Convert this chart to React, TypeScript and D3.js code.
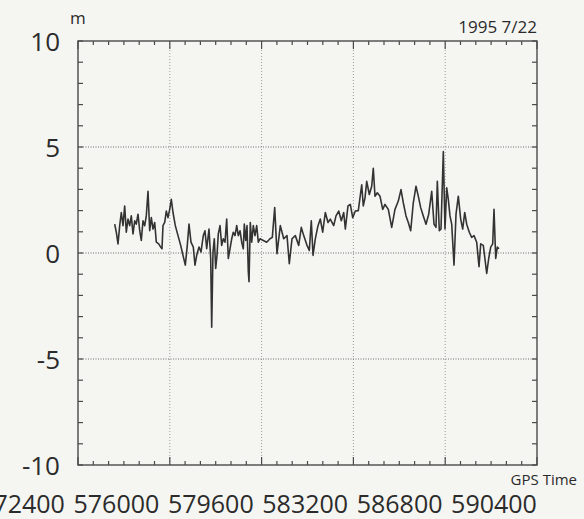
import React, { useEffect, useRef } from 'react';
import * as d3 from 'd3';

// GPS time (s) of each sample
const gpsTime = [
  573839, 573902, 573969, 574035, 574098, 574165, 574231, 574294, 574361, 574427,
  574490, 574557, 574624, 574686, 574753, 574820, 574882, 574949, 575016, 575078,
  575145, 575212, 575275, 575341, 575408, 575471, 575565, 575643, 575694, 575733,
  575800, 575863, 575929, 575996, 576059, 576126, 576216, 576322, 576427, 576518,
  576608, 576686, 576753, 576831, 576922, 576988, 577055, 577145, 577224, 577314,
  577380, 577447, 577537, 577604, 577643, 577694, 577745, 577800, 577851, 577902,
  577969, 578035, 578098, 578165, 578231, 578294, 578361, 578428, 578490, 578557,
  578624, 578686, 578753, 578820, 578882, 578922, 578977, 579028, 579079, 579106,
  579157, 579212, 579275, 579341, 579408, 579471, 579537, 579667, 579800, 579929,
  580020, 580114, 580204, 580334, 580467, 580596, 580686, 580792, 580922, 581055,
  581157, 581251, 581380, 581471, 581549, 581616, 581706, 581812, 581902, 581996,
  582098, 582204, 582294, 582428, 582518, 582624, 582726, 582820, 582883, 582988,
  583079, 583173, 583275, 583392, 583526, 583588, 583655, 583722, 583824, 583918,
  583980, 584047, 584138, 584243, 584349, 584439, 584569, 584702, 584831, 584961,
  585067, 585157, 585263, 585353, 585447, 585549, 585655, 585745, 585839, 585941,
  586047, 586153, 586271, 586361, 586439, 586491, 586569, 586635, 586726, 586792,
  586859, 586922, 586988, 587055, 587145, 587224, 587314, 587408, 587486, 587565,
  587643, 587745, 587839, 587930, 588035, 588126, 588192, 588294, 588373, 588428,
  588506, 588585, 588663, 588714, 588781, 588843, 588910,
];

// height deviation (m)
const deviation = [
  1.36, 0.98, 0.43, 1.29, 1.91, 1.29, 2.22, 0.98, 1.6, 1.29,
  1.75, 0.9, 1.52, 1.36, 1.83, 1.05, 0.59, 1.52, 1.29, 1.75,
  2.91, 1.05, 1.67, 1.13, 1.44, 0.51, 0.43, 0.28, 0.2, 1.29,
  1.44, 1.98, 1.67, 2.06, 2.53, 1.91, 1.29, 0.82, 0.36, -0.11,
  -0.57, 0.36, 1.36, 0.51, 0.28, -0.57, -0.11, 0.28, 0.05, 0.82,
  1.05, 0.2, 1.13, -0.26, -3.5, 0.05, 0.67, -0.73, -0.11, 0.9,
  1.29, 0.36, 0.67, 0.51, 1.6, -0.26, 0.2, 0.67, 0.98, 0.82,
  1.29, 0.82, 1.05, 0.51, 0.2, 1.36, 0.59, 1.29, -0.88, -1.35,
  1.44, 0.51, 1.29, 0.82, 1.29, 0.51, 0.67, 0.59, 0.51, 0.67,
  0.74, 2.14, -0.03, 1.29, 0.67, 0.82, -0.5, 0.67, 0.82, 0.36,
  1.21, 0.82, 0.36, 0.12, 1.52, -0.11, 0.67, 1.29, 1.6, 0.98,
  1.91, 1.44, 1.6, 1.29, 1.75, 1.98, 1.52, 1.91, 1.13, 2.22,
  2.29, 1.67, 1.98, 2.0, 3.22, 2.22, 2.6, 3.38, 2.76, 3.15,
  4.0, 2.68, 2.84, 2.68, 2.06, 2.29, 2.06, 1.21, 2.06, 2.45,
  2.99, 2.37, 1.75, 1.44, 1.05, 2.37, 3.15, 2.68, 2.14, 1.75,
  1.36, 1.83, 2.91, 1.36, 1.21, 3.38, 1.05, 1.13, 4.78, 1.13,
  3.07, 2.53, 1.75, 1.36, -0.57, 1.83, 2.68, 1.6, 1.13, 1.91,
  1.36, 0.98, 0.74, 0.82, 0.51, -0.65, 0.43, 0.36, -0.42, -0.96,
  -0.26, 0.28, 0.43, 2.06, -0.26, 0.28, 0.2,
];

const xTicks = [572400, 576000, 579600, 583200, 586800, 590400];
const yTicks = [10, 5, 0, -5, -10];

const FONT = '"Open Sans", "Liberation Sans", sans-serif';

export default function App() {
  const svgRef = useRef(null);

  useEffect(() => {
    const svg = d3.select(svgRef.current);
    svg.selectAll('*').remove();

    const left = 78, right = 537, top = 41, bottom = 465;
    const axisColor = '#4a4a4a';

    const x = d3.scaleLinear().domain([572400, 590400]).range([left, right]);
    const y = d3.scaleLinear().domain([-10, 10]).range([bottom, top]);
    // the printed tick numbers sit a little left of their gridlines
    const xLabel = d3.scaleLinear().domain(x.domain()).range([22, 494]);

    const g = svg.append('g');

    // grid
    g.selectAll('.vgrid')
      .data(xTicks.slice(1, -1))
      .join('line')
      .attr('x1', d => x(d)).attr('x2', d => x(d))
      .attr('y1', top).attr('y2', bottom)
      .attr('stroke', '#9a9a9a')
      .attr('stroke-width', 1)
      .attr('stroke-dasharray', '1,2');

    g.selectAll('.hgrid')
      .data([5, 0, -5])
      .join('line')
      .attr('x1', left).attr('x2', right)
      .attr('y1', d => y(d)).attr('y2', d => y(d))
      .attr('stroke', '#6e6e6e')
      .attr('stroke-width', 1.1)
      .attr('stroke-dasharray', '1,1.5');

    // ticks on the x edges
    const minorX = d3.range(572400, 590401, 600);
    const xTickLen = d => (d % 3600 === 0 ? 8 : 4);
    g.selectAll('.xtop')
      .data(minorX)
      .join('line')
      .attr('x1', d => x(d)).attr('x2', d => x(d))
      .attr('y1', top).attr('y2', d => top + xTickLen(d))
      .attr('stroke', axisColor).attr('stroke-width', 1.2);
    g.selectAll('.xbot')
      .data(minorX)
      .join('line')
      .attr('x1', d => x(d)).attr('x2', d => x(d))
      .attr('y1', bottom).attr('y2', d => bottom - xTickLen(d))
      .attr('stroke', axisColor).attr('stroke-width', 1.2);

    // ticks on the y edges
    const minorY = d3.range(-10, 11, 1);
    g.selectAll('.yl')
      .data(minorY)
      .join('line')
      .attr('x1', left).attr('x2', left + 5)
      .attr('y1', d => y(d)).attr('y2', d => y(d))
      .attr('stroke', axisColor).attr('stroke-width', 1.2);
    g.selectAll('.yr')
      .data(minorY)
      .join('line')
      .attr('x1', right).attr('x2', right - 5)
      .attr('y1', d => y(d)).attr('y2', d => y(d))
      .attr('stroke', axisColor).attr('stroke-width', 1.2);

    // frame
    g.append('rect')
      .attr('x', left).attr('y', top)
      .attr('width', right - left).attr('height', bottom - top)
      .attr('fill', 'none')
      .attr('stroke', axisColor)
      .attr('stroke-width', 1.4);

    // data
    const pts = gpsTime.map((t, i) => [t, deviation[i]]);
    const line = d3.line().x(d => x(d[0])).y(d => y(d[1]));
    g.append('path')
      .datum(pts)
      .attr('d', line)
      .attr('fill', 'none')
      .attr('stroke', '#333333')
      .attr('stroke-width', 1.6)
      .attr('stroke-linejoin', 'round');

    // labels
    g.selectAll('.ylab')
      .data(yTicks)
      .join('text')
      .attr('x', 60)
      .attr('y', d => y(d) + 10)
      .attr('text-anchor', 'end')
      .style('font-family', FONT)
      .style('font-size', '26px')
      .attr('fill', '#2b2b2b')
      .text(d => d);

    g.selectAll('.xlab')
      .data(xTicks)
      .join('text')
      .attr('x', d => xLabel(d))
      .attr('y', 513)
      .attr('text-anchor', 'middle')
      .style('font-family', FONT)
      .style('font-size', '25px')
      .attr('fill', '#2b2b2b')
      .text(d => d);

    g.append('text')
      .attr('x', 70).attr('y', 24)
      .style('font-family', FONT)
      .style('font-size', '17px')
      .attr('fill', '#2b2b2b')
      .text('m');

    g.append('text')
      .attr('x', 537).attr('y', 33)
      .attr('text-anchor', 'end')
      .style('font-family', FONT)
      .style('font-size', '17px')
      .attr('fill', '#2b2b2b')
      .text('1995 7/22');

    g.append('text')
      .attr('x', 577).attr('y', 485)
      .attr('text-anchor', 'end')
      .style('font-family', FONT)
      .style('font-size', '15px')
      .attr('fill', '#2b2b2b')
      .text('GPS Time');
  }, []);

  return (
    <svg
      ref={svgRef}
      width={584}
      height={519}
      style={{ position: 'absolute', left: 0, top: 0, background: '#f5f6f2' }}
    />
  );
}
